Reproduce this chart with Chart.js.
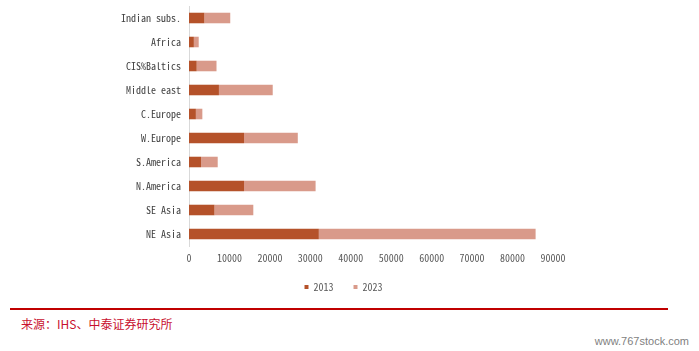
<!DOCTYPE html>
<html>
<head>
<meta charset="utf-8">
<script src="https://cdn.jsdelivr.net/npm/chart.js@4/dist/chart.umd.min.js"></script>
<style>
  html, body { margin: 0; padding: 0; background: #fff; }
  #wrap { position: relative; width: 699px; height: 351px; overflow: hidden; }
  #chart-box { position: absolute; left: 0; top: 0; width: 699px; height: 302px; }
  .rule { position: absolute; left: 10px; top: 308px; width: 658px; height: 0; border-top: 2px solid #c00000; }
  .source { position: absolute; left: 21px; top: 315px; font: 12px "Noto Sans CJK SC", sans-serif; color: #c8102e; white-space: nowrap; }
  .mark { position: absolute; right: 10px; top: 335px; font: 11px "Liberation Sans", sans-serif; color: #7f7f7f; }
</style>
</head>
<body>
<div id="wrap">
  <div id="chart-box"><canvas id="regionChart"></canvas></div>
  <div class="rule"></div>
  <div class="source">来源：IHS、中泰证券研究所</div>
  <div class="mark">www.767stock.com</div>
</div>
<script>
const regions = ['Indian subs.', 'Africa', 'CIS%Baltics', 'Middle east', 'C.Europe',
                 'W.Europe', 'S.America', 'N.America', 'SE Asia', 'NE Asia'];
// stacked segments, as drawn
const values2013 = [3800, 1200, 1900, 7400, 1700, 13600, 3000, 13600, 6300, 32100];
const values2023 = [6400, 1200, 4900, 13300, 1600, 13300, 4100, 17700, 9600, 53600];
const seriesNames = ['2013', '2023'];
const xMax = 90000;
const xStep = 10000;

const monoFont = '"Noto Sans Mono CJK SC", "DejaVu Sans Mono", monospace';

// legend is centred on the whole picture, not on the plot
const legendShift = {
  id: 'legendShift',
  afterLayout: (chart) => {
    const lg = chart.legend;
    if (!lg) return;
    lg.left = 8;
    lg.right = chart.width - 20;
  }
};

new Chart(document.getElementById('regionChart'), {
  type: 'bar',
  data: {
    labels: regions,
    datasets: [
      { label: seriesNames[0], data: values2013, backgroundColor: '#b5522a' },
      { label: seriesNames[1], data: values2023, backgroundColor: '#d99a8a' }
    ]
  },
  options: {
    indexAxis: 'y',
    responsive: true,
    maintainAspectRatio: false,
    animation: false,
    categoryPercentage: 0.44,
    barPercentage: 1,
    layout: { padding: { left: 8, right: 146, top: 6, bottom: 0 } },
    scales: {
      x: {
        stacked: true,
        min: 0,
        max: xMax,
        ticks: {
          stepSize: xStep,
          padding: 6,
          color: '#595959',
          font: { family: monoFont, size: 10 },
          callback: (v) => String(v)
        },
        grid: { display: false, drawTicks: false },
        border: { display: false },
        afterFit: (s) => { s.height = 16; }
      },
      y: {
        stacked: true,
        ticks: { padding: 8, color: '#404040', font: { family: monoFont, size: 10 } },
        grid: { display: false, drawTicks: false },
        border: { display: true, color: '#d9d9d9', width: 1 },
        afterFit: (s) => { s.width = 181; s.paddingTop = 0; s.paddingBottom = 0; }
      }
    },
    plugins: {
      tooltip: { enabled: false },
      legend: {
        position: 'bottom',
        labels: {
          boxWidth: 4,
          boxHeight: 4,
          padding: 20,
          color: '#595959',
          font: { family: monoFont, size: 10 }
        }
      }
    }
  },
  plugins: [legendShift]
});
</script>
</body>
</html>
